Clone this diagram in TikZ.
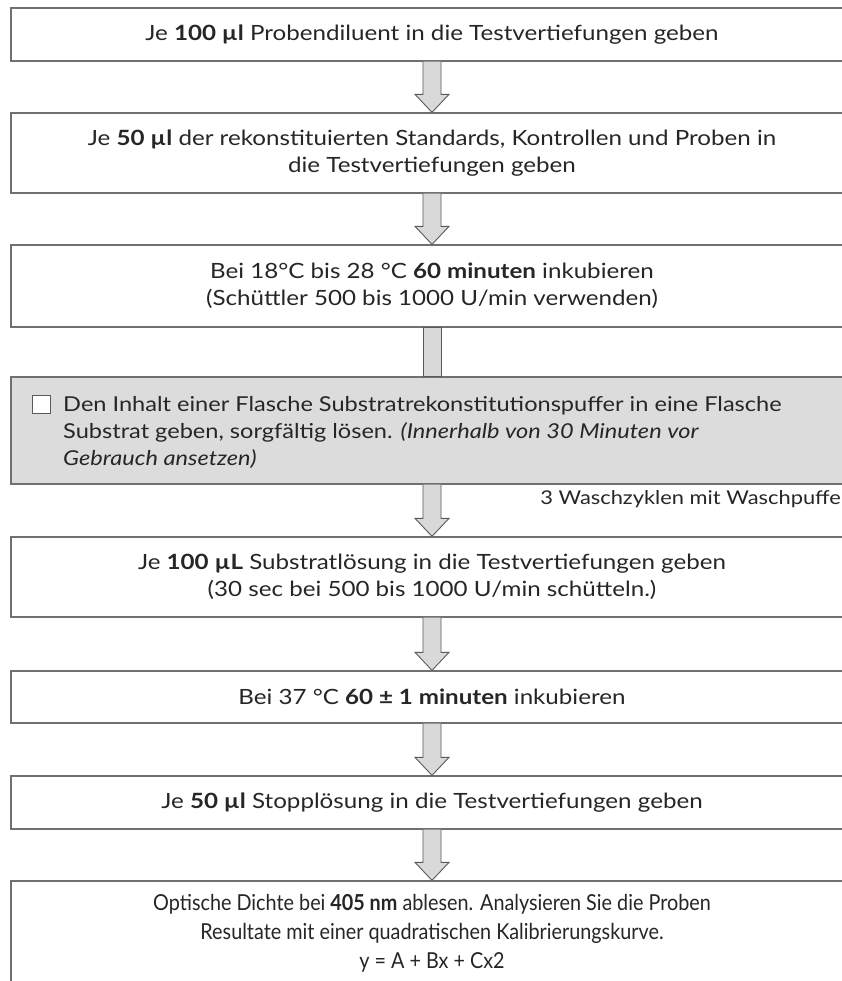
\documentclass[tikz,border=0pt]{standalone}
\usepackage{fontspec}
\setmainfont{Lato}[FakeStretch=1.15]
\newfontfamily\condfont[FakeStretch=0.9]{Lato}
\usetikzlibrary{calc}
\definecolor{boxline}{HTML}{707070}
\definecolor{arrowline}{HTML}{5A5A5A}
\definecolor{arrowfill}{HTML}{D9D9D9}
\definecolor{panelfill}{HTML}{DCDCDC}
\definecolor{txt}{HTML}{262626}
\newcommand\flowarrow[2]{%
  \draw[flow] let \p1=(#1.south), \p2=(#2.north) in
    (\x1-9pt,\y1) -- (\x1-9pt,\y2+18pt) -- (\x1-17pt,\y2+18pt) -- (\x1,\y2)
    -- (\x1+17pt,\y2+18pt) -- (\x1+9pt,\y2+18pt) -- (\x1+9pt,\y1);}
\begin{document}
\begin{tikzpicture}[x=1pt,y=-1pt,
  stepbox/.style={draw=boxline, line width=1.3pt, fill=white, minimum width=842pt,
    text=txt, align=center, inner sep=0pt, font=\fontsize{21}{27}\selectfont},
  flow/.style={draw=arrowline, line width=0.9pt, fill=arrowfill, line join=miter},
  bodytext/.style={text=txt, inner sep=0pt}]
\useasboundingbox (0,0) rectangle (841,981);
\fill[white] (0,0) rectangle (841,981);

\node[stepbox, minimum height=53pt] (b1) at (432,34.5)
  {Je \textbf{100 µl} Probendiluent in die Testvertiefungen geben};
\node[stepbox, minimum height=80pt] (b2) at (432,153)
  {Je \textbf{50 µl} der rekonstituierten Standards, Kontrollen und Proben in\\die Testvertiefungen geben};
\node[stepbox, minimum height=82pt] (b3) at (432,286)
  {Bei 18°C bis 28 °C \textbf{60 minuten} inkubieren\\(Schüttler 500 bis 1000 U/min verwenden)};
\node[stepbox, fill=panelfill, minimum height=107pt] (panel) at (432,430.5) {};
\node[draw=arrowline, line width=1pt, fill=white, minimum size=18pt, inner sep=0pt] (chk) at (41,404.5) {};
\node[bodytext, anchor=west, align=left, font=\fontsize{20.5}{27}\selectfont] (ptext) at (63,432)
  {Den Inhalt einer Flasche Substratrekonstitutionspuffer in eine Flasche\\
   Substrat geben, sorgfältig lösen. \textit{(Innerhalb von 30 Minuten vor}\\
   \textit{Gebrauch ansetzen)}};
\node[stepbox, minimum height=80pt] (b5) at (432,577)
  {Je \textbf{100 µL} Substratlösung in die Testvertiefungen geben\\(30 sec bei 500 bis 1000 U/min schütteln.)};
\node[stepbox, minimum height=52pt] (b6) at (432,697)
  {Bei 37 °C \textbf{60 ± 1 minuten} inkubieren};
\node[stepbox, minimum height=53pt] (b7) at (432,802.5)
  {Je \textbf{50 µl} Stopplösung in die Testvertiefungen geben};
\node[stepbox, minimum height=130pt] (b8) at (432,946) {};
\node[bodytext, align=center, font=\condfont\fontsize{22}{29}\selectfont] (b8text) at (432,933.5)
  {Optische Dichte bei \textbf{405 nm} ablesen. Analysieren Sie die Proben\\
   Resultate mit einer quadratischen Kalibrierungskurve.\\
   y = A + Bx + Cx2};

\node[bodytext, anchor=east, font=\fontsize{19}{22}\selectfont] (wash) at (841,499)
  {3 Waschzyklen mit Waschpuffe};

\flowarrow{b1}{b2}
\flowarrow{b2}{b3}
\draw[flow] let \p1=(b3.south), \p2=(panel.north) in
  (\x1-9pt,\y1) rectangle (\x1+9pt,\y2);
\flowarrow{panel}{b5}
\flowarrow{b5}{b6}
\flowarrow{b6}{b7}
\flowarrow{b7}{b8}
\end{tikzpicture}
\end{document}
